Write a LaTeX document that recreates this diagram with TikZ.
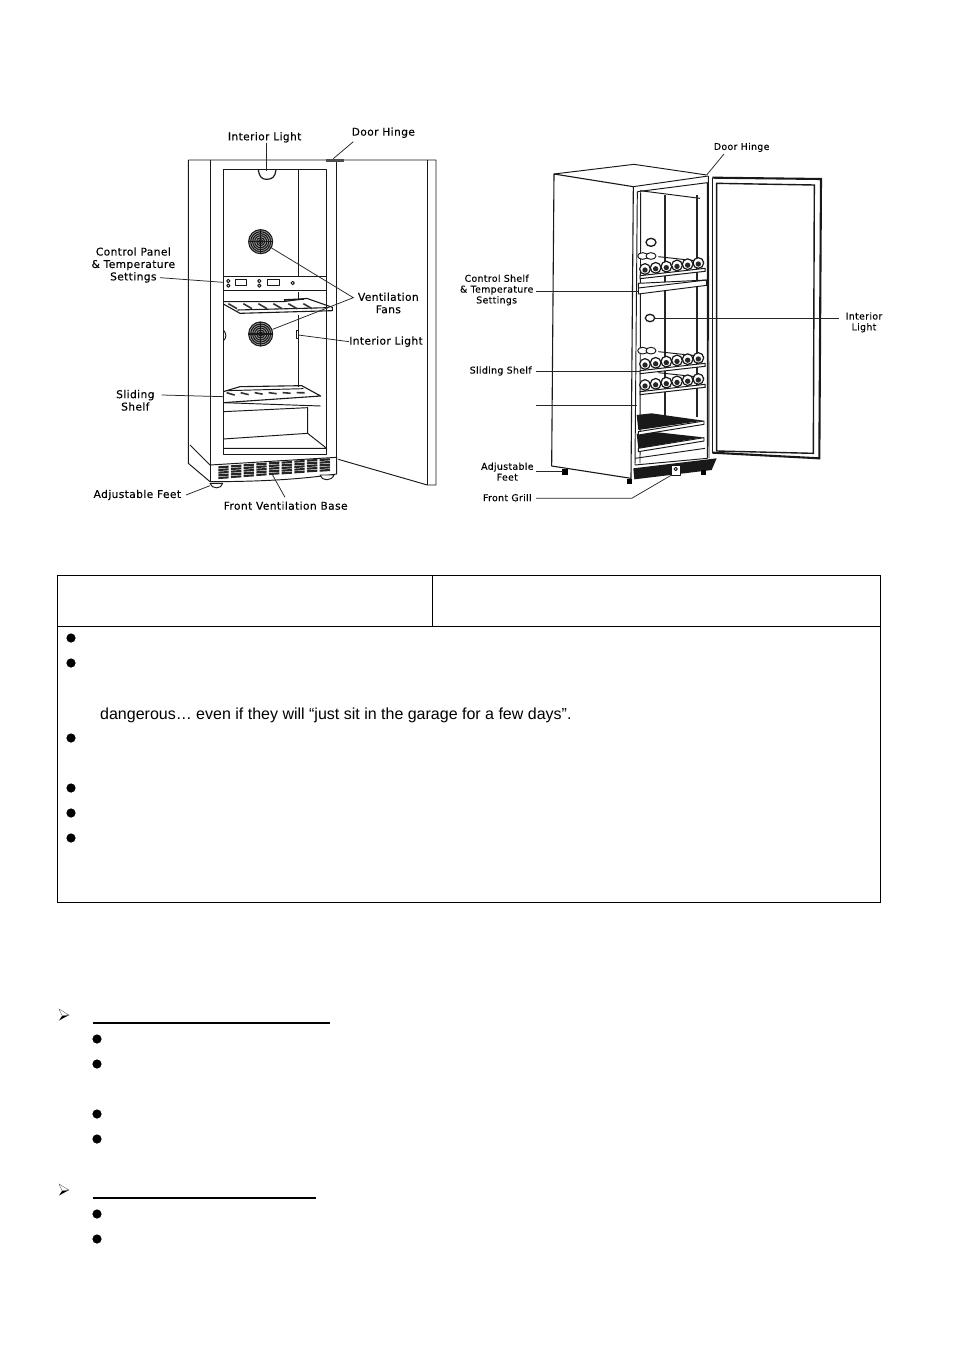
\documentclass[tikz,border=0pt]{standalone}
\usepackage{fontspec}
\setmainfont{Liberation Sans}
\newfontfamily\labelfont[LetterSpace=3.4,FakeBold=0.12]{DejaVu Sans}
\tikzset{
  fridgeline/.style={black!90,line width=0.95pt,line join=round},
  leader/.style={black!85,line width=0.75pt},
  biglabel/.style={inner sep=0pt,align=center,font=\labelfont\fontsize{10.7}{12.4}\selectfont},
  smalllabel/.style={inner sep=0pt,align=center,font=\labelfont\fontsize{9.4}{10.8}\selectfont},
  bodytext/.style={inner sep=0pt,anchor=base west,font=\fontsize{16}{18}\selectfont},
  tableline/.style={black,line width=0.9pt},
  listbullet/.style={black}
}
\begin{document}
\begin{tikzpicture}[x=1pt,y=-1pt]
  \useasboundingbox (0,0) rectangle (954,1350);
  \fill[white] (0,0) rectangle (954,1350);

  % left cabinet, read off at three times scale
  \begin{scope}[shift={(80,120)},x=1pt/3,y=-1pt/3]
    \draw[fridgeline] (325,120) -- (325,1030) -- (390,1085);
    \draw[fridgeline] (330,975) -- (390,1035);
    \draw[fridgeline] (325,120) -- (1068,120) -- (1068,1095) -- (1042,1095) -- (775,1018);
    \draw[fridgeline] (1042,120) -- (1042,1095);
    \draw[fridgeline] (390,120) -- (390,1085);
    \draw[fridgeline,line width=1.3pt] (770,120) -- (770,1012);
    \draw[fill=black!70,draw=black!70] (740,117) rectangle (790,123);
    \draw[fridgeline,line width=1.1pt] (430,148) rectangle (740,1003);
    \draw[fridgeline] (655,148) -- (655,470);
    \draw[fridgeline] (655,515) -- (655,540);
    \draw[fridgeline,line width=1.3pt] (655,585) -- (655,800);
    \draw[fridgeline,line width=1.2pt] (535,150) .. controls (538,170) and (545,178) .. (560,178) .. controls (578,178) and (585,170) .. (588,150);
    % fans
    \foreach \fany in {365,642} {
      \fill[black!35] (542,\fany) circle (37);
      \foreach \fanr in {36,30,24,18,12,6}
        \draw[black!90,line width=1.1pt] (542,\fany) circle (\fanr);
      \draw[black!90,line width=1.2pt] (505,\fany) -- (579,\fany) (542,\fany-37) -- (542,\fany+37);
    }
    % control panel
    \draw[fridgeline] (430,470) -- (740,470) (430,512) -- (740,512);
    \draw[fridgeline] (740,470) -- (740,512);
    \foreach \knobx in {445,538} {
      \draw[fridgeline] (\knobx,483) circle (5);
      \draw[fridgeline] (\knobx,497) circle (5);
    }
    \draw[fridgeline] (467,479) rectangle (500,497);
    \draw[fridgeline] (562,479) rectangle (597,497);
    \draw[fridgeline] (638,489) circle (5);
    % upper shelf
    \draw[fridgeline,line width=1.1pt] (430,545) -- (610,545) -- (680,535) -- (757,562) -- (757,572) -- (480,580) -- (430,552);
    \draw[fridgeline,line width=1.1pt] (472,570) -- (745,563);
    \draw[black!90,line width=1.6pt] (612,540) -- (672,537);
    \foreach \slatx in {445,490,535,580,625,670}
      \draw[black!80,line width=1.6pt] (\slatx,551) -- (\slatx+26,566);
    \draw[fridgeline] (430,630) .. controls (440,640) and (440,655) .. (430,662);
    \draw[fridgeline] (648,630) rectangle (656,656);
    % lower shelf and bottom bin
    \draw[fridgeline,line width=1.1pt] (430,815) -- (480,800) -- (665,797) -- (722,828) -- (430,848);
    \draw[fridgeline] (430,848) -- (722,858);
    \draw[fridgeline] (440,812) -- (670,806);
    \foreach \slatx in {440,482,524,566,608,650}
      \draw[black!80,line width=1.6pt] (\slatx,818) -- (\slatx+24,840-\slatx/30);
    \draw[fridgeline] (430,875) -- (683,863) -- (683,940) -- (430,957);
    \draw[fridgeline] (683,940) -- (740,985) -- (430,985);
    % base and feet
    \draw[fridgeline] (390,1035) -- (770,1012) -- (770,1062);
    \draw[fridgeline] (390,1085) .. controls (520,1085) and (650,1080) .. (770,1062);
    \foreach \grillx/\grilly in {415/1042,453/1039,491/1036,529/1033,567/1030,605/1028,643/1025,681/1022,719/1020} {
      \foreach \grillk in {0,1,2,3,4}
        \draw[black!85,line width=2.1pt] (\grillx,\grilly+\grillk*8) -- (\grillx+31,\grilly+\grillk*8-2);
    }
    \draw[fridgeline,fill=white] (390,1090) .. controls (395,1108) and (425,1108) .. (428,1090) -- cycle;
    \draw[fridgeline,fill=white] (720,1065) .. controls (725,1084) and (755,1084) .. (762,1065) -- cycle;
    % labels
    \node[biglabel] (lightA) at (554,52) {Interior Light};
    \node[biglabel] (hingeA) at (910,38) {Door Hinge};
    \node[biglabel] (panelA) at (160,435) {Control Panel\\\& Temperature\\Settings};
    \node[biglabel] (fansA) at (925,549) {Ventilation\\Fans};
    \node[biglabel] (lightB) at (918,665) {Interior Light};
    \node[biglabel] (shelfA) at (166,841) {Sliding\\Shelf};
    \node[biglabel] (feetA) at (172,1125) {Adjustable Feet};
    \node[biglabel] (baseA) at (617,1157) {Front Ventilation Base};
    % leader ends
    \coordinate (lightAend) at (560,152);
    \coordinate (hingeAend) at (760,116);
    \coordinate (panelAend) at (430,487);
    \coordinate (fanAend) at (565,378);
    \coordinate (fanBend) at (578,628);
    \coordinate (fansAfork) at (820,533);
    \coordinate (lightBend) at (655,645);
    \coordinate (shelfAstart) at (245,825);
    \coordinate (shelfAend) at (430,830);
    \coordinate (feetAstart) at (318,1125);
    \coordinate (feetAend) at (390,1097);
    \coordinate (baseAend) at (575,1060);
    \draw[leader] (lightA.south -| lightAend) -- (lightAend);
    \draw[leader] (820,65) -- (hingeAend);
    \draw[leader] (240,473) -- (panelAend);
    \draw[leader] (fanAend) -- (fansAfork) -- (fanBend);
    \draw[leader] (lightBend) -- (lightB.west);
    \draw[leader] (shelfAstart) -- (shelfAend);
    \draw[leader] (feetAstart) -- (feetAend);
    \draw[leader] (baseAend) -- (615,1132);
  \end{scope}

  % right cabinet, same scale
  \begin{scope}[shift={(450,130)},x=1pt/3,y=-1pt/3]
    \draw[fridgeline,line width=1.1pt] (312,132) -- (305,1008) -- (543,1045) -- (550,170) -- cycle;
    \draw[fridgeline] (312,132) -- (552,103) -- (770,135);
    \draw[fridgeline] (550,170) -- (775,138);
    \draw[fridgeline] (775,138) -- (777,985);
    \draw[fridgeline] (562,185) -- (772,158) -- (772,985);
    \draw[fridgeline] (562,185) -- (555,1005);
    \draw[fridgeline] (572,187) -- (570,1000);
    \draw[fridgeline] (570,182) -- (750,205);
    \foreach \postx in {645,740}
      \draw[black!85,line width=1.8pt] (\postx,195) -- (\postx,860);
    % door
    \draw[black!90,line width=1.2pt] (787,143) -- (787,968);
    \draw[black!90,line width=2.1pt] (787,143) -- (1113,147) -- (1108,985) -- (787,968);
    \draw[black!90,line width=1.4pt] (800,160) -- (1093,165) -- (1090,970) -- (800,963) -- cycle;
    % lights
    \draw[black!90,line width=1.3pt] (603,337) ellipse (15 and 12);
    \draw[black!90,line width=1.3pt] (600,564) ellipse (14 and 11);
    % bottle shelves
    \foreach \racky in {378,662}
      \foreach \bottlex in {578,603}
        \draw[fridgeline,fill=white] (\bottlex,\racky) ellipse (15 and 10);
    \foreach \racky in {417,702,765} {
      \draw[fridgeline] (625,\racky-37) -- (762,\racky-22);
      \foreach \bottlei in {0,1,2,3,4,5} {
        \draw[black!90,line width=1.2pt,fill=white] (585+32*\bottlei,\racky-3.6*\bottlei) circle (16);
        \fill[black!85] (585+32*\bottlei,\racky+3-3.6*\bottlei) circle (8);
      }
      \draw[fill=white,draw=black!90,line width=1pt] (570,\racky+20) -- (765,\racky-2) -- (765,\racky+7) -- (570,\racky+29) -- cycle;
    }
    % control shelf
    \draw[fridgeline,fill=white] (565,460) -- (770,450) -- (770,466) -- (565,492) -- cycle;
    \draw[fridgeline] (565,474) -- (770,450);
    % dark shelves
    \fill[black!90] (560,855) -- (605,850) -- (760,872) -- (565,900) -- cycle;
    \fill[black!90] (560,912) -- (605,905) -- (760,922) -- (565,955) -- cycle;
    \foreach \racky in {905,955}
      \draw[fridgeline,fill=white] (565,\racky) -- (762,\racky-32) -- (762,\racky-22) -- (565,\racky+10) -- cycle;
    \draw[fridgeline] (555,985) -- (765,955);
    \draw[fridgeline] (555,1005) -- (772,985);
    % base and feet
    \fill[black!90] (550,1015) -- (800,985) -- (785,1020) -- (553,1048) -- cycle;
    \draw[fridgeline,fill=white] (665,1005) rectangle (690,1035);
    \draw[fridgeline] (677,1017) circle (5);
    \fill[black] (337,1016) rectangle (355,1034);
    \fill[black] (530,1046) rectangle (547,1062);
    \fill[black] (752,1020) rectangle (768,1035);
    % labels
    \node[smalllabel] (hingeB) at (875,52) {Door Hinge};
    \node[smalllabel] (panelB) at (140,480) {Control Shelf\\\& Temperature\\Settings};
    \node[smalllabel] (lightC) at (1242,577) {Interior\\Light};
    \node[smalllabel] (shelfB) at (152,723) {Sliding Shelf};
    \node[smalllabel] (feetB) at (172,1025) {Adjustable\\Feet};
    \node[smalllabel] (grillB) at (172,1103) {Front Grill};
    % leader ends
    \coordinate (hingeBend) at (770,135);
    \coordinate (panelBstart) at (258,483);
    \coordinate (panelBend) at (565,483);
    \coordinate (lightCstart) at (615,564);
    \coordinate (lightCend) at (1168,564);
    \coordinate (shelfBstart) at (258,724);
    \coordinate (shelfBend) at (570,724);
    \coordinate (blankstart) at (258,827);
    \coordinate (blankend) at (560,827);
    \coordinate (feetBstart) at (258,1025);
    \coordinate (feetBend) at (340,1025);
    \coordinate (grillBstart) at (258,1105);
    \coordinate (grillBbend) at (545,1105);
    \coordinate (grillBend) at (665,1035);
    \draw[leader] (822,72) -- (hingeBend);
    \draw[leader] (panelBstart) -- (panelBend);
    \draw[leader] (lightCstart) -- (lightCend);
    \draw[leader] (shelfBstart) -- (shelfBend);
    \draw[leader] (blankstart) -- (blankend);
    \draw[leader] (feetBstart) -- (feetBend);
    \draw[leader] (grillBstart) -- (grillBbend) -- (grillBend);
  \end{scope}

  % table
  \draw[tableline] (57,575) rectangle (880.5,902.5);
  \draw[tableline] (57,626.5) -- (880.5,626.5);
  \draw[tableline] (432.5,575) -- (432.5,626.5);
  \foreach \bulletY in {638,663,738,788,813,838}
    \fill[listbullet] (71,\bulletY) circle (4.6);
  \node[bodytext] (garagetext) at (100,719) {dangerous… even if they will “just sit in the garage for a few days”.};

  % lists below the table
  \foreach \arrowY in {1015,1190} {
    \fill[black] (59,\arrowY+5.5) -- (69,\arrowY) -- (62,\arrowY+1) -- cycle;
    \draw[black!60,line width=0.4pt] (59,\arrowY-6) -- (69,\arrowY) -- (62,\arrowY+0.5) -- cycle;
  }
  \draw[black,line width=1.7pt] (93,1023) -- (330,1023);
  \draw[black,line width=1.7pt] (93,1198) -- (316,1198);
  \foreach \bulletY in {1039,1064,1114,1139,1214,1239}
    \fill[listbullet] (97,\bulletY) circle (4.6);
\end{tikzpicture}
\end{document}
